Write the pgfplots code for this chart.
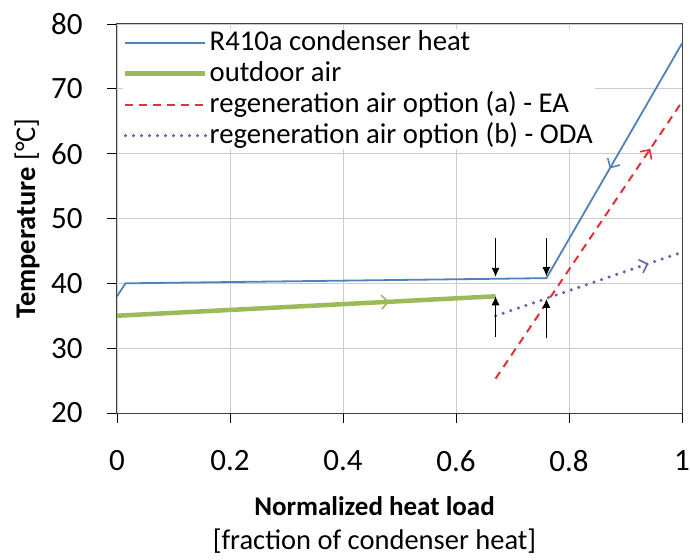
\documentclass[border=0pt]{standalone}
\usepackage{pgfplots}
\pgfplotsset{compat=1.18}
\usepackage{fontspec}
\setmainfont{Carlito}
\usetikzlibrary{arrows.meta,decorations.markings}
\definecolor{cblue}{HTML}{4F81BD}
\definecolor{cgreen}{HTML}{9BBB59}
\definecolor{cred}{HTML}{E0303A}
\definecolor{cpurple}{HTML}{7060A8}
\tikzset{
  midarrow/.style 2 args={postaction={decorate},decoration={markings,mark=at position #1 with {\arrow[#2,line width=1.6pt]{Straight Barb[length=7pt,width=14pt]}}}},
  midarrowrev/.style 2 args={postaction={decorate},decoration={markings,mark=at position #1 with {\arrow[#2,line width=1.6pt]{Straight Barb[length=7pt,width=14pt,reversed]}}}}
}
\begin{document}
\begin{tikzpicture}
\begin{axis}[
  name=ax,
  scale only axis,
  width=565pt, height=389pt,
  xmin=0, xmax=1, ymin=20, ymax=80,
  xtick={0,0.2,0.4,0.6,0.8,1},
  ytick={20,30,40,50,60,70,80},
  xticklabels={0,0.2,0.4,0.6,0.8,1},
  tick label style={font=\fontsize{31}{36}\selectfont},
  /pgf/number format/assume math mode=true,
  xtick pos=left, ytick pos=left,
  tick align=outside,
  major tick length=10pt,
  tick style={black, line width=0.9pt},
  xticklabel style={yshift=-24pt},
  yticklabel style={xshift=-21pt},
  grid=major,
  grid style={gray!40, line width=0.9pt},
  axis line style={black!75, line width=1pt},
  xlabel={\textbf{Normalized heat load}\\[4pt]{\fontsize{28.5}{32}\selectfont[fraction of condenser heat]}},
  xlabel style={at={(axis description cs:0.5,0)}, anchor=north, align=center,
    font=\fontsize{27}{30}\selectfont, yshift=-80pt, xshift=-25pt},
  ylabel={\textbf{Temperature} [°C]},
  ylabel style={at={(axis description cs:0,0.5)}, anchor=center,
    font=\fontsize{28.5}{32}\selectfont, yshift=90pt},
  legend style={at={(rel axis cs:0,1)}, anchor=north west, xshift=6pt, yshift=-5pt,
    draw=none, fill=white, fill opacity=1, inner sep=0pt,
    nodes={inner xsep=2pt, inner ysep=0pt, text height=21pt, text depth=6pt},
    font=\fontsize{28.7}{31}\selectfont, row sep=4pt},
  legend cell align=left,
  legend image code/.code={\draw[#1] (0pt,0pt) -- (80pt,0pt);},
]
\addplot[cblue, line width=1.8pt] coordinates {(0,38) (0.015,40) (0.76,40.8) (1,77)};
\addlegendentry{R410a condenser heat}
\addplot[cgreen, line width=4.5pt] coordinates {(0,35) (0.67,38)};
\addlegendentry{outdoor air}
\addplot[cred, line width=2pt, dash pattern=on 8pt off 6pt] coordinates {(0.67,25.3) (1,68)};
\addlegendentry{regeneration air option (a) - EA}
\addplot[cpurple, line width=3.5pt, dash pattern=on 0pt off 8pt, line cap=round] coordinates {(0.67,35) (1,44.8)};
\addlegendentry{regeneration air option (b) - ODA}
% direction arrows on the curves
\addplot[draw=none, forget plot, midarrowrev={0.5}{cblue}] coordinates {(0.76,40.8) (1,77)};
\addplot[draw=none, forget plot, midarrow={0.72}{cgreen}] coordinates {(0,35) (0.67,38)};
\addplot[draw=none, forget plot, midarrow={0.83}{cred}] coordinates {(0.67,25.3) (1,68)};
\addplot[draw=none, forget plot, midarrow={0.82}{cpurple}] coordinates {(0.67,35) (1,44.8)};
\draw[-{Latex[length=9pt,width=8pt]}, black, line width=0.9pt] (axis cs:0.67,47) -- (axis cs:0.67,41);
\draw[-{Latex[length=9pt,width=8pt]}, black, line width=0.9pt] (axis cs:0.76,47) -- (axis cs:0.76,41.1);
\draw[-{Latex[length=9pt,width=8pt]}, black, line width=0.9pt] (axis cs:0.67,31.7) -- (axis cs:0.67,38);
\draw[-{Latex[length=9pt,width=8pt]}, black, line width=0.9pt] (axis cs:0.76,31.6) -- (axis cs:0.76,37.6);
\end{axis}
\pgfresetboundingbox
\path ([shift={(-117pt,-146pt)}]ax.south west) rectangle ([shift={(8pt,24pt)}]ax.north east);
\end{tikzpicture}
\end{document}
